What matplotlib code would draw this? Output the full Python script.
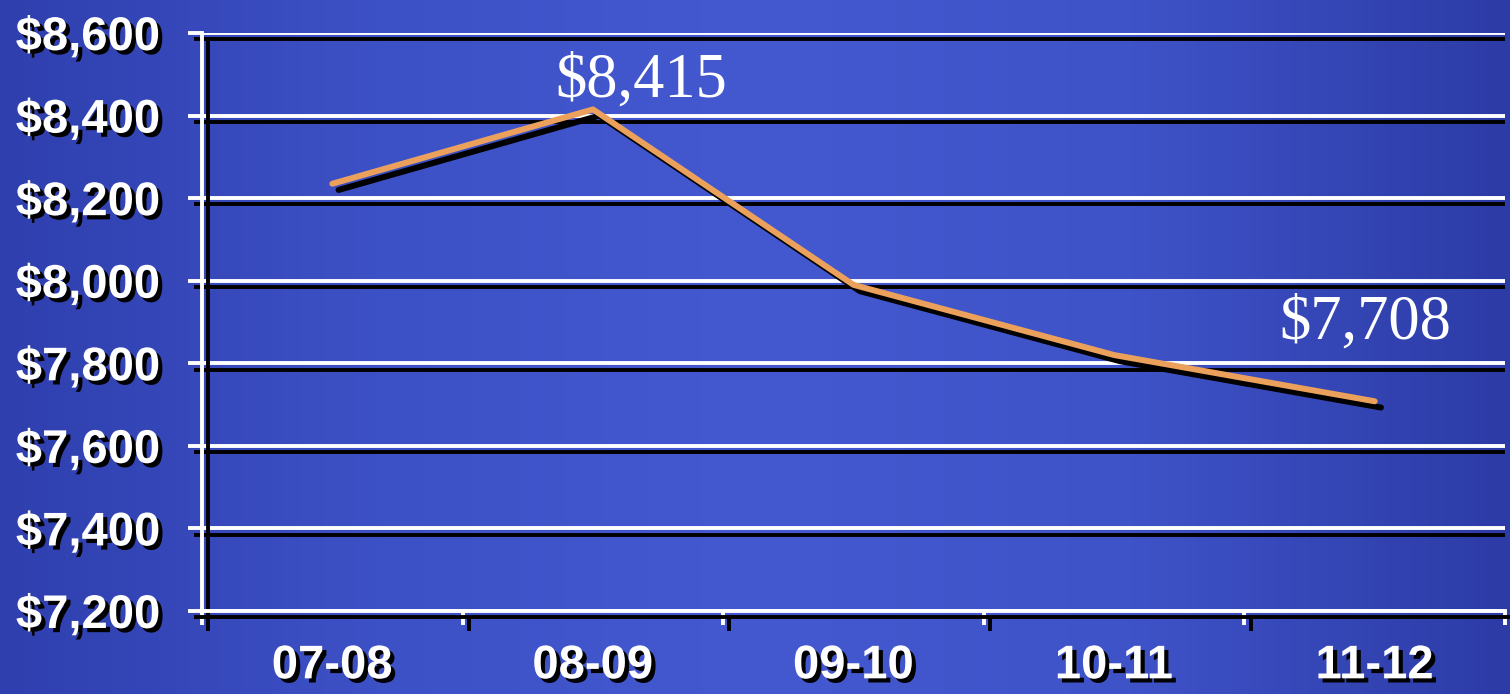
import numpy as np
import matplotlib
matplotlib.use('Agg')
import matplotlib.pyplot as plt
import matplotlib.patheffects as pe
from matplotlib.colors import LinearSegmentedColormap

# data
years = ['07-08', '08-09', '09-10', '10-11', '11-12']
cost = [8235, 8415, 7990, 7820, 7708]
y_ticks = [7200, 7400, 7600, 7800, 8000, 8200, 8400, 8600]

fig = plt.figure(figsize=(15.1, 6.94), dpi=100)

# gradient background
bg = fig.add_axes([0, 0, 1, 1], zorder=-10)
bg_cmap = LinearSegmentedColormap.from_list(
    'bg', ['#2f3fae', '#3d51c6', '#4459d0', '#3f53c8', '#2c3ba6'])
bg.imshow(np.linspace(0, 1, 256)[None, :], aspect='auto', cmap=bg_cmap,
          extent=[0, 1, 0, 1])
bg.set_axis_off()

ax = fig.add_axes([0.1338, 0.1196, 0.8629, 0.8328])
ax.patch.set_alpha(0)

line_shadow = [pe.SimpleLineShadow(offset=(4.5, -4.5), shadow_color='black',
                                   alpha=1, rho=1), pe.Normal()]
text_shadow = [pe.withSimplePatchShadow(offset=(3, -3),
                                        shadow_rgbFace='black', alpha=1)]

x = np.arange(len(years))
ax.plot(x, cost, color='#eba05c', lw=4.3, solid_capstyle='round',
        path_effects=line_shadow, zorder=5)

ax.set_xlim(-0.5, len(years) - 0.5)
ax.set_ylim(7200, 8600)
ax.set_yticks(y_ticks)
ax.set_yticklabels(['${:,}'.format(v) for v in y_ticks])
ax.set_xticks(np.arange(len(years) + 1) - 0.5)
ax.set_xticklabels([])
ax.set_xticks(x, minor=True)
ax.set_xticklabels(years, minor=True)

ax.grid(axis='y', color='white', lw=2.8, path_effects=line_shadow, zorder=1)
for s in ['top', 'right']:
    ax.spines[s].set_visible(False)
for s in ['left', 'bottom']:
    ax.spines[s].set_color('white')
    ax.spines[s].set_linewidth(2.8)
    ax.spines[s].set_path_effects(line_shadow)

ax.tick_params(axis='both', which='major', colors='white', width=2.8,
               length=10)
ax.tick_params(axis='x', which='minor', length=0, pad=24)
ax.tick_params(axis='y', pad=20)
for lab in ax.get_yticklabels() + ax.get_xticklabels(minor=True):
    lab.set_fontfamily('Liberation Sans')
    lab.set_fontweight('bold')
    lab.set_fontsize(34)
    lab.set_color('white')
    lab.set_path_effects(text_shadow)
for t in ax.yaxis.get_major_ticks() + ax.xaxis.get_major_ticks():
    t.tick1line.set_path_effects(line_shadow)

# value labels
ax.annotate('${:,}'.format(cost[1]), (x[1], cost[1]), xytext=(35, 9),
            textcoords='offset points', ha='center', va='baseline',
            fontsize=45, color='white', fontfamily='Liberation Serif')
ax.annotate('${:,}'.format(cost[-1]), (x[-1], cost[-1]), xytext=(-7, 45),
            textcoords='offset points', ha='center', va='baseline',
            fontsize=45, color='white', fontfamily='Liberation Serif')

fig.savefig('out.png', dpi=100)
